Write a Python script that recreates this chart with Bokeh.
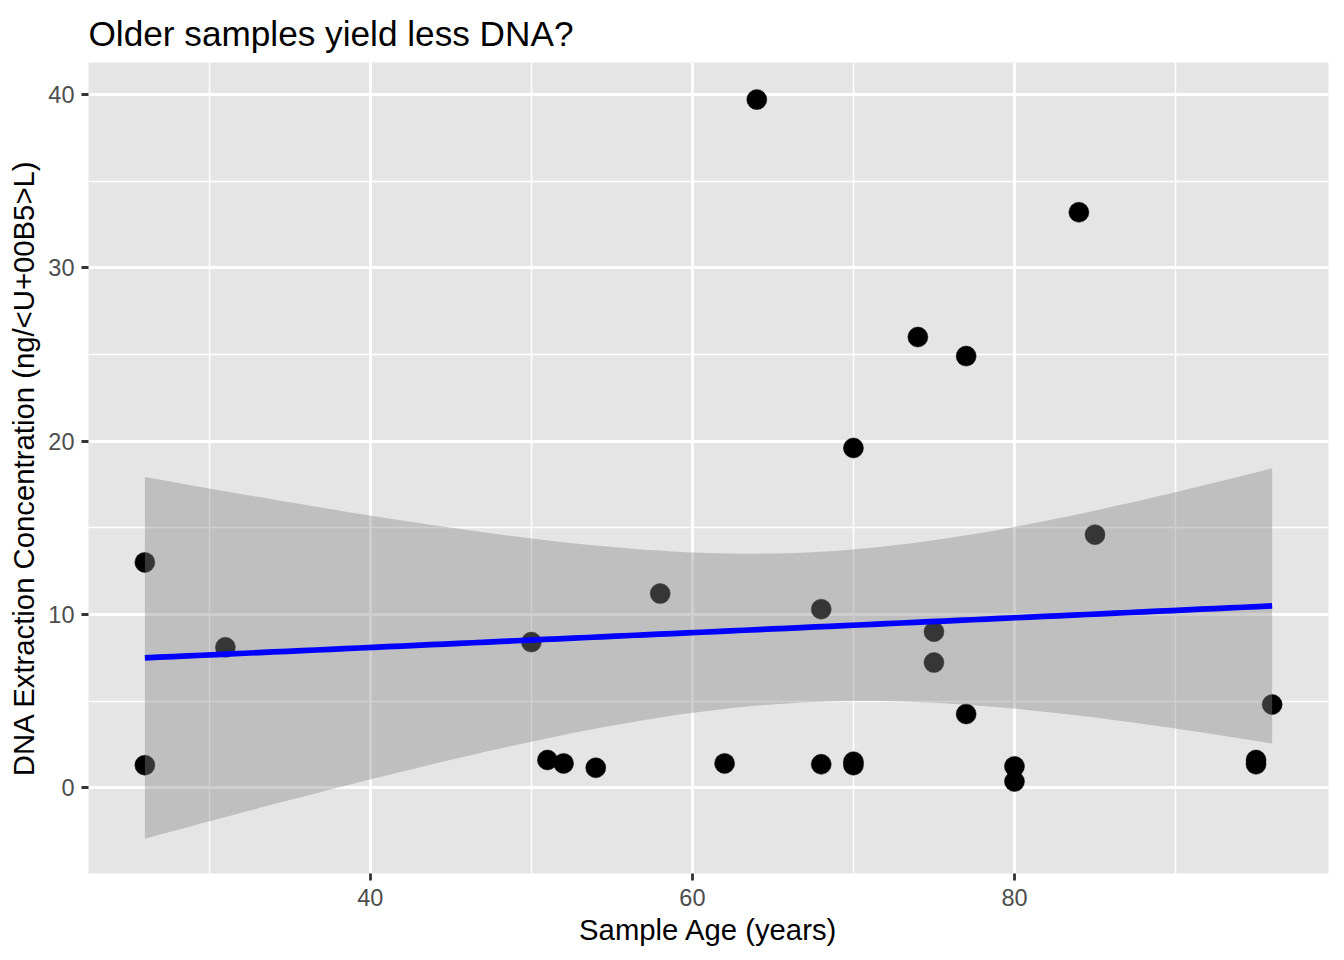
import numpy as np
from bokeh.plotting import figure
from bokeh.models import FixedTicker, Range1d
from bokeh.embed import file_html
from bokeh.resources import INLINE

# ---- data ----
age = [26, 26, 31, 50, 51, 52, 54, 58, 62, 64, 68, 68, 70, 70, 70, 74, 75, 75,
       77, 77, 80, 80, 84, 85, 95, 95, 96]
conc = [13.0, 1.3, 8.1, 8.4, 1.6, 1.4, 1.15, 11.2, 1.4, 39.7, 10.3, 1.35, 19.6,
        1.5, 1.3, 26.0, 9.0, 7.22, 24.9, 4.25, 1.23, 0.36, 33.2, 14.6, 1.6,
        1.35, 4.8]
x_ticks = [40, 60, 80]
x_minor = [30, 50, 70, 90]
y_ticks = [0, 10, 20, 30, 40]
y_minor = [-5, 5, 15, 25, 35]

# ---- linear fit with 95% confidence band (as geom_smooth(method="lm")) ----
x = np.array(age, dtype=float)
y = np.array(conc, dtype=float)
n = len(x)
xbar, ybar = x.mean(), y.mean()
sxx = ((x - xbar) ** 2).sum()
slope = ((x - xbar) * (y - ybar)).sum() / sxx
icpt = ybar - slope * xbar
resid = y - (icpt + slope * x)
s = np.sqrt((resid ** 2).sum() / (n - 2))
T975 = 2.059539  # qt(0.975, df = 25)
xs = np.linspace(x.min(), x.max(), 80)
fit = icpt + slope * xs
se = s * np.sqrt(1.0 / n + (xs - xbar) ** 2 / sxx)
lo = fit - T975 * se
hi = fit + T975 * se

FONT = "Liberation Sans"

p = figure(width=1336, height=952, output_backend="svg", toolbar_location=None,
           x_range=Range1d(22.5, 99.5), y_range=Range1d(-4.95, 41.84),
           min_border_left=88, min_border_right=8, min_border_top=62,
           min_border_bottom=79,
           title="Older samples yield less DNA?")

p.background_fill_color = "#E5E5E5"
p.border_fill_color = "white"
p.outline_line_color = None

p.title.text_font = FONT
p.title.text_font_size = "35.2px"
p.title.text_font_style = "normal"
p.title.text_color = "black"
p.title.align = "left"
p.title.standoff = 20
p.title.offset = 0

p.xaxis.ticker = FixedTicker(ticks=x_ticks, minor_ticks=x_minor)
p.yaxis.ticker = FixedTicker(ticks=y_ticks, minor_ticks=y_minor)

for ax in (p.xaxis, p.yaxis):
    ax.axis_line_color = None
    ax.minor_tick_line_color = None
    ax.major_tick_line_color = "#333333"
    ax.major_tick_line_width = 2.8
    ax.major_tick_out = 7
    ax.major_tick_in = 0
    ax.major_label_text_font = FONT
    ax.major_label_text_font_size = "23.5px"
    ax.major_label_text_color = "#4D4D4D"
    ax.axis_label_text_font = FONT
    ax.axis_label_text_font_size = "29.3px"
    ax.axis_label_text_font_style = "normal"
    ax.axis_label_text_color = "black"

p.xaxis.major_label_standoff = 8
p.yaxis.major_label_standoff = 7
p.xaxis.axis_label_standoff = 4
p.yaxis.axis_label_standoff = 5
p.xaxis.axis_label = "Sample Age (years)"
p.yaxis.axis_label = "DNA Extraction Concentration (ng/<U+00B5>L)"

p.xgrid.grid_line_color = "white"
p.ygrid.grid_line_color = "white"
p.xgrid.grid_line_width = 2.8
p.ygrid.grid_line_width = 2.8
p.xgrid.minor_grid_line_color = "white"
p.ygrid.minor_grid_line_color = "white"
p.xgrid.minor_grid_line_width = 1.4
p.ygrid.minor_grid_line_width = 1.4

p.scatter(age, conc, size=20, fill_color="black", line_color="black",
          line_width=0.5)
p.varea(x=xs, y1=lo, y2=hi, fill_color="#868686", fill_alpha=0.4)
p.line(xs, fit, line_color="#0000FF", line_width=5.7)

open("out.html", "w").write(file_html(p, INLINE))
